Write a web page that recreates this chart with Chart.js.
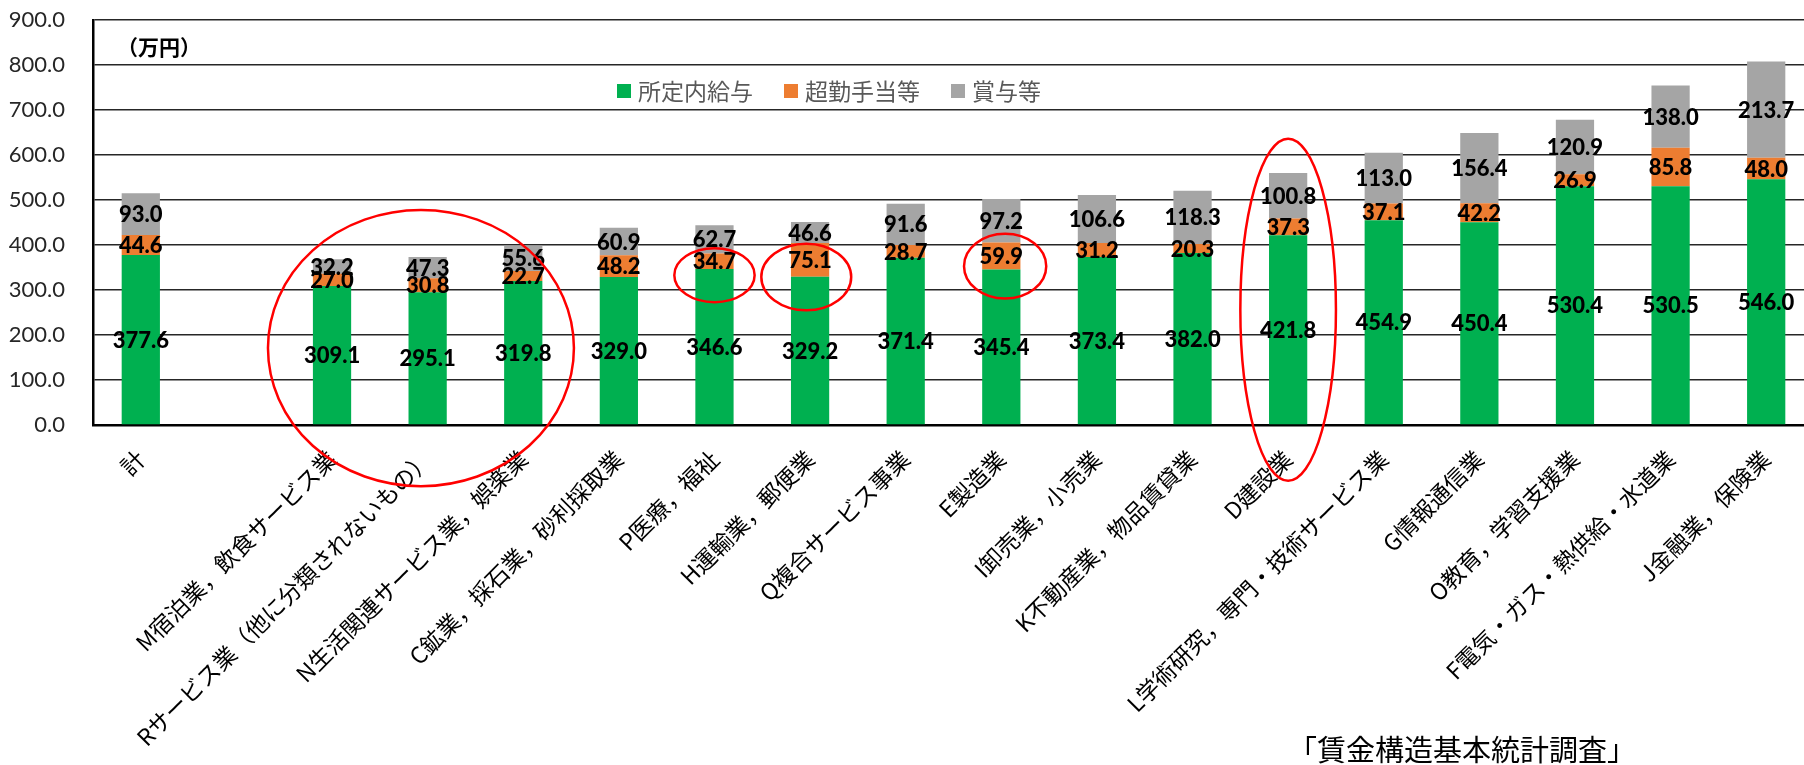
<!DOCTYPE html>
<html lang="ja">
<head>
<meta charset="utf-8">
<title>産業別 年間賃金の内訳</title>
<script src="https://cdn.jsdelivr.net/npm/chart.js@4.4.1/dist/chart.umd.min.js"></script>
<style>
  html, body { margin: 0; padding: 0; background: #fff; overflow: hidden; }
  #wrap { width: 1814px; height: 765px; position: relative; }
</style>
</head>
<body>
<div id="wrap"><canvas id="wageChart"></canvas></div>
<script>
// industries (blank slot after the total)
const industries = [
  "計", "",
  "M宿泊業，飲食サービス業",
  "Rサービス業（他に分類されないもの）",
  "N生活関連サービス業，娯楽業",
  "C鉱業，採石業，砂利採取業",
  "P医療，福祉",
  "H運輸業，郵便業",
  "Q複合サービス事業",
  "E製造業",
  "I卸売業，小売業",
  "K不動産業，物品賃貸業",
  "D建設業",
  "L学術研究，専門・技術サービス業",
  "G情報通信業",
  "O教育，学習支援業",
  "F電気・ガス・熱供給・水道業",
  "J金融業，保険業"
];

// 万円
const basePay     = [377.6, null, 309.1, 295.1, 319.8, 329.0, 346.6, 329.2, 371.4, 345.4, 373.4, 382.0, 421.8, 454.9, 450.4, 530.4, 530.5, 546.0];
const overtimePay = [44.6, null, 27.0, 30.8, 22.7, 48.2, 34.7, 75.1, 28.7, 59.9, 31.2, 20.3, 37.3, 37.1, 42.2, 26.9, 85.8, 48.0];
const bonusPay    = [93.0, null, 32.2, 47.3, 55.6, 60.9, 62.7, 46.6, 91.6, 97.2, 106.6, 118.3, 100.8, 113.0, 156.4, 120.9, 138.0, 213.7];

const seriesNames  = ["所定内給与", "超勤手当等", "賞与等"];
const seriesColors = ["#00B050", "#ED7D31", "#A5A5A5"];

// red rings: category position, value at centre, half-width in slots, half-height in 万円
const rings = [
  { at: 2.93, value: 171, rx: 1.6,  ry: 307 },
  { at: 6.0,  value: 333, rx: 0.42, ry: 60 },
  { at: 6.96, value: 329, rx: 0.47, ry: 74 },
  { at: 9.04, value: 353, rx: 0.43, ry: 72 },
  { at: 12.0, value: 256, rx: 0.5,  ry: 380 }
];

const LATIN = "Lato, 'Liberation Sans', sans-serif";
const CJK = "'Noto Sans CJK JP', 'Noto Sans', sans-serif";

// === value labels in the middle of each segment ===
const segmentLabels = {
  id: "segmentLabels",
  afterDatasetsDraw(chart) {
    const ctx = chart.ctx;
    ctx.save();
    ctx.font = "900 22px " + LATIN;
    ctx.fillStyle = "#000";
    ctx.textAlign = "center";
    ctx.textBaseline = "middle";
    chart.data.datasets.forEach((ds, di) => {
      chart.getDatasetMeta(di).data.forEach((bar, i) => {
        const v = ds.data[i];
        if (v == null) return;
        ctx.fillText(v.toFixed(1), bar.x, (bar.y + bar.base) / 2 + 1);
      });
    });
    ctx.restore();
  }
};

// === legend inside the plot, unit, source note, red rings ===
const extras = {
  id: "extras",
  afterDraw(chart) {
    const ctx = chart.ctx;
    const { x, y } = chart.scales;
    ctx.save();

    // legend
    ctx.font = "23px " + CJK;
    ctx.textBaseline = "middle";
    ctx.textAlign = "left";
    let lx = 617;
    const ly = 91;
    chart.data.datasets.forEach((ds) => {
      ctx.fillStyle = ds.backgroundColor;
      ctx.fillRect(lx, ly - 7, 14, 14);
      ctx.fillStyle = "#595959";
      ctx.fillText(ds.label, lx + 21, ly);
      lx += 21 + ctx.measureText(ds.label).width + 31;
    });

    // unit
    ctx.fillStyle = "#000";
    ctx.font = "bold 21px " + CJK;
    ctx.fillText("（万円）", 117, 47);

    // source
    ctx.font = "29px " + CJK;
    ctx.fillText("「賃金構造基本統計調査」", 1288, 750);

    // rings
    const slot = x.getPixelForValue(1) - x.getPixelForValue(0);
    const unit = y.getPixelForValue(0) - y.getPixelForValue(1);
    ctx.strokeStyle = "#FF0000";
    ctx.lineWidth = 2.5;
    rings.forEach((r) => {
      ctx.beginPath();
      ctx.ellipse(x.getPixelForValue(r.at), y.getPixelForValue(r.value),
        r.rx * slot, r.ry * unit, 0, 0, Math.PI * 2);
      ctx.stroke();
    });
    ctx.restore();
  }
};

const datasets = [basePay, overtimePay, bonusPay].map((vals, i) => ({
  label: seriesNames[i],
  data: vals,
  backgroundColor: seriesColors[i],
  borderWidth: 0,
  barPercentage: 0.4,
  categoryPercentage: 1.0
}));

new Chart(document.getElementById("wageChart"), {
  type: "bar",
  data: { labels: industries, datasets },
  plugins: [segmentLabels, extras],
  options: {
    responsive: true,
    maintainAspectRatio: false,
    animation: false,
    layout: { padding: { top: 20, right: 0, bottom: 0, left: 0 } },
    plugins: {
      legend: { display: false },
      tooltip: { enabled: false }
    },
    scales: {
      x: {
        stacked: true,
        grid: { display: false, drawTicks: false },
        border: { display: true, color: "#000", width: 2.5 },
        ticks: {
          autoSkip: false,
          maxRotation: 45,
          minRotation: 45,
          padding: 20,
          color: "#000",
          font: { family: CJK, size: 23 }
        },
        afterFit(scale) { scale.height = 340; }
      },
      y: {
        stacked: true,
        min: 0,
        max: 900,
        // tick marks are invisible; their length gives the gap before the labels
        grid: { color: "#262626", lineWidth: 1.5, drawTicks: true, tickLength: 28, tickColor: "rgba(0,0,0,0)" },
        border: { color: "#000", width: 2.5 },
        ticks: {
          stepSize: 100,
          padding: 0,
          color: "#262626",
          font: { family: LATIN, size: 22 },
          callback: (v) => v.toFixed(1)
        },
        afterFit(scale) { scale.width = 93; }
      }
    }
  }
});
</script>
</body>
</html>
